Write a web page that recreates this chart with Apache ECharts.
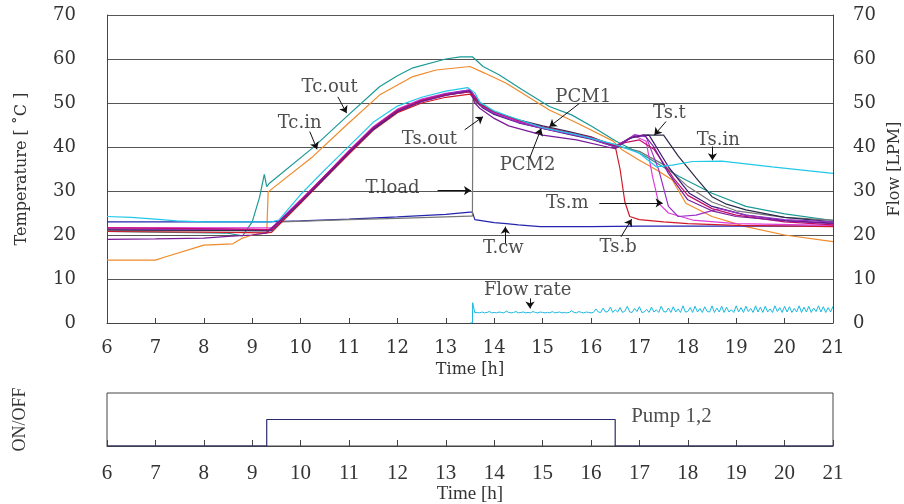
<!DOCTYPE html>
<html><head><meta charset="utf-8">
<script src="https://cdn.jsdelivr.net/npm/echarts@6/dist/echarts.min.js"></script>
<style>html,body{margin:0;padding:0;background:#fff}#c{width:904px;height:504px}</style>
</head><body><div id="c"></div>
<script>
// ---- data: [time h, value] ----
const tcOut = [[6,20.8],[8.5,20.4],[8.8,19.8],[9.0,23],[9.15,28.5],[9.25,33.8],[9.28,34.2],[9.3,31],[9.35,31.7],[10.25,39.8],[10.95,46.9],[11.63,53.7],[12.0,56.2],[12.32,58],[13.0,60],[13.3,60.5],[13.55,60.5],[13.77,58.3],[14.1,56.4],[14.58,53],[15.14,49.2],[15.6,47.3],[16.03,44.6],[16.52,41.3],[17.14,37.8],[17.82,33.3],[18.5,29.5],[19.2,26.5],[20,24.8],[21,23.3]];
const tcIn = [[6,14.3],[7,14.3],[7.2,15],[8,17.7],[8.6,18],[8.8,19.3],[9,20],[9.3,20.5],[9.33,29.8],[10.25,37.8],[10.95,45],[11.63,51.8],[12.32,56],[12.8,57.5],[13.5,58.3],[13.8,56.8],[14.25,54.5],[15.14,48.4],[15.7,45.5],[16.45,41.4],[16.65,39.3],[17,37],[17.4,34.5],[17.68,32.5],[17.96,27.2],[18.5,24.2],[19.2,21.9],[20,20],[21,18.5]];
const tsIn = [[6,24.2],[6.5,24],[7,23.6],[7.44,23.2],[8,23],[9.4,23],[9.55,23.4],[10,29.2],[10.5,34.8],[11,40.2],[11.5,45.6],[12,49.3],[12.5,51.3],[13,52.7],[13.45,53.5],[13.6,52.3],[13.7,50.2],[14,48.2],[14.3,47],[15,44.4],[15.7,42.8],[16.5,40.6],[16.7,39.8],[17,38.6],[17.35,35.5],[17.68,35.9],[18.1,36.7],[18.7,36.8],[19.74,35.5],[21,34]];
const tsOut = [[6,19],[7,19.1],[8,19.3],[8.5,19.7],[9,20],[9.3,20.5],[10,27.6],[10.5,33.2],[11,38.8],[11.5,44.2],[12,48.1],[12.5,50.3],[13,51.7],[13.5,52.8],[13.6,50],[13.7,48.8],[14,46.5],[14.3,44.8],[15,42.7],[15.7,41.6],[16.5,39.6],[16.8,42],[17.1,42.8],[17.3,40],[17.6,34],[18,28],[18.5,25.5],[19,24.2],[20,23.2],[21,22.6]];
const pcm1 = [[6,21.6],[8.5,21.4],[9.3,21.2],[9.4,21.2],[10,27.8],[10.5,33.4],[11,39],[11.5,44.4],[12,48.4],[12.5,50.6],[13,51.9],[13.5,52.5],[13.6,51.2],[13.75,49.4],[14,48],[14.5,46],[15,44.6],[15.5,43.4],[16,42.2],[16.5,40.3],[16.7,41],[17,41.6],[17.3,39.5],[17.7,33],[18,29],[18.5,26],[19,24.5],[20,23],[21,22.3]];
const pcm2 = [[6,21.3],[9.3,21],[9.4,21],[10,27.5],[10.5,33],[11,38.7],[11.5,44],[12,48],[12.5,50.4],[13,51.8],[13.5,52.6],[13.6,51],[13.75,49],[14,47.4],[14.5,45.5],[15,44.2],[15.5,43],[16,41.8],[16.5,40],[16.9,42.5],[17.2,42.7],[17.6,35.5],[18.03,29.5],[18.5,26.5],[19.2,24.5],[20,23.3],[21,22.7]];
const tsT = [[6,21.2],[9.3,21],[9.4,21],[10,27.7],[10.5,33.3],[11,38.9],[11.5,44.3],[12,48.3],[12.5,50.6],[13,52],[13.5,52.9],[13.6,51.4],[13.75,49.6],[14,48],[14.5,46.2],[15,44.8],[15.5,43.6],[16,42.3],[16.5,40.1],[16.8,42],[17.14,42.7],[17.5,42.7],[17.8,38],[18.17,33],[18.5,28.7],[18.8,27],[19.2,25.7],[20,24],[21,23]];
const tsM = [[6,21.4],[9.3,21.2],[9.4,21.2],[10,27.8],[10.5,33.4],[11,39],[11.5,44.4],[12,48.4],[12.5,50.7],[13,52.1],[13.5,53],[13.6,51.3],[13.75,49.2],[14,47.6],[14.5,45.6],[15,44.2],[15.5,43.1],[16,41.9],[16.5,40],[16.9,42.8],[17.14,42.3],[17.4,34.8],[17.6,26.5],[17.8,24.2],[18.17,24.5],[18.65,26],[19.2,24.5],[20,23.5],[21,23]];
const ts2 = [[6,21.7],[9.3,21.6],[9.4,21.6],[10,28],[10.5,33.5],[11,39.2],[11.5,44.6],[12,48.6],[12.5,50.9],[13,52.2],[13.5,53],[13.6,51.6],[13.75,49.5],[14,47.8],[14.5,45.8],[15,44.4],[15.5,43.3],[16,42],[16.5,40.3],[16.9,42.5],[17.14,41.3],[17.27,33.3],[17.4,27.2],[17.6,25],[18.1,23.4],[19,22.6],[21,22.2]];
const tsB = [[6,20.8],[8.5,20.6],[9.3,20.5],[9.4,20.6],[10,27.2],[10.5,32.8],[11,38.4],[11.5,43.8],[12,47.8],[12.5,50],[13,51.3],[13.5,52],[13.6,50.8],[13.75,49.2],[14,47.6],[14.5,45.7],[15,44.3],[15.5,43.2],[16,42],[16.5,40.2],[16.6,35],[16.7,27.5],[16.8,24.2],[17,23.5],[17.5,23],[18,22.6],[19,22.2],[21,21.9]];
const tLoad = [[6,21],[9.3,21],[9.6,23],[11,23.5],[12,23.8],[13.5,24.3],[13.55,24.3],[13.56,50.8],[13.7,49.5],[14,47.8],[14.5,46],[15,44.5],[15.5,43.3],[16,42],[16.5,40.3],[17,39],[17.5,36],[18,31],[18.5,27.5],[19,25.5],[20,24],[21,23.4]];
const tCw = [[6,23],[9.3,23],[10,23.2],[11,23.6],[12,24.1],[13,24.7],[13.5,25.2],[13.55,25.2],[13.6,23.5],[14,22.8],[14.25,22.6],[14.5,22.3],[14.95,21.9],[16,21.9],[17,22],[21,22]];
// flow rate [LPM], sampled every 0.05 h starting at 13.6 h
const flowStart = [[13.5,0],[13.55,0],[13.555,4.6]];
const flowRate = [2.3,2.4,2.3,2.5,2.3,2.4,2.6,2.3,2.4,2.3,2.5,2.4,2.3,2.7,2.4,2.3,2.4,2.6,2.3,2.4,2.5,2.3,2.4,2.3,2.6,2.4,2.3,2.5,2.4,2.3,2.4,2.3,2.6,2.3,2.4,2.5,2.3,2.4,2.3,2.4,2.8,2.4,2.3,2.6,2.4,2.3,2.5,2.4,2.3,
2.4,3.2,2.5,2.4,3.4,2.5,2.6,3.6,2.4,3.0,2.5,3.5,2.4,2.7,3.8,2.5,2.4,3.3,2.6,3.7,2.4,2.5,3.1,2.4,3.6,2.5,3.0,2.4,3.8,2.6,2.5,3.4,2.4,3.7,2.5,3.2,2.4,3.9,2.5,2.6,3.5,2.4,3.8,2.5,3.3,2.4,3.7,2.6,2.5,3.9,2.4,3.4,2.5,3.8,2.4,3.6,2.5,3.0,2.4,3.9,2.5,3.5,2.4,3.8,2.6,3.3,2.4,3.9,2.5,3.6,2.4,3.8,2.5,3.2,2.4,3.9,2.6,3.5,2.4,3.8,2.5,3.7,2.4,3.3,2.5,3.9,2.4,3.6,2.5,3.8,2.4,3.4,2.6,3.9,2.5,3.7,2.4,3.5,2.5,3.8];
const pump = [[6,0],[9.3,0],[9.3,1],[16.5,1],[16.5,0],[21,0]];
// annotation labels [text, time, value] and arrows [x0,y0,x1,y1]
const annoLabels = [['Tc.out',10.6,53.6],['Tc.in',9.98,45.4],['Ts.out',12.66,41.8],['T.load',11.9,30.6],['PCM1',15.84,51.4],['PCM2',14.69,35.9],['Ts.t',17.62,47.7],['Ts.in',18.63,41.6],['Ts.m',15.51,27.3],['Ts.b',16.56,17.3],['T.cw',14.19,17.0],['Flow rate',14.69,7.5]];
const annoArrows = [[10.77,51.4,10.95,47.7],[10.19,43.5,10.34,39.5],[13.39,43.9,13.77,46.9],[12.83,30.1,13.52,30.1],[15.76,49.9,15.14,44.6],[14.73,37.4,14.97,44.2],[17.55,45.8,17.31,42.7],[18.51,40.1,18.51,37.0],[16.17,27.3,17.48,27.3],[16.62,19.6,16.84,23.6],[14.23,18.1,14.23,21.9],[14.74,5.6,14.74,3.3]];
const pumpLabel = [['Pump 1,2',16.83,1.1]];

const flowData = flowStart.concat(flowRate.map((v,i)=>[13.6+i*0.05, v]));
const serif = 'DejaVu Serif';
const serif2 = 'Liberation Serif';
const axisCol = '#444';
function ln(name, data, color, w){
  return {name, type:'line', xAxisIndex:0, yAxisIndex:0, data, symbol:'none', showSymbol:false,
    lineStyle:{color, width:w||1.2}, itemStyle:{color}, silent:true, z:2};
}
const chart = echarts.init(document.getElementById('c'), null, {renderer:'canvas'});
chart.setOption({
  animation:false,
  backgroundColor:'#fff',
  grid:[
    {left:107, right:71, top:15, height:308, containLabel:false, outerBoundsMode:'none'},
    {left:107, right:71, top:393, height:53, show:true, borderColor:axisCol, borderWidth:1, backgroundColor:'transparent', containLabel:false, outerBoundsMode:'none'}
  ],
  xAxis:[
    {gridIndex:0, type:'value', min:6, max:21, interval:1,
     axisLine:{lineStyle:{color:axisCol}}, axisTick:{inside:true, length:5, lineStyle:{color:axisCol}},
     axisLabel:{fontFamily:serif, fontSize:18, color:'#333', margin:16},
     splitLine:{show:false},
     name:'Time [h]', nameLocation:'middle', nameGap:35, nameTextStyle:{fontFamily:serif, fontSize:16, color:'#333'}},
    {gridIndex:1, type:'value', min:6, max:21, interval:1,
     axisLine:{lineStyle:{color:axisCol}}, axisTick:{inside:true, length:6, lineStyle:{color:axisCol}},
     axisLabel:{fontFamily:serif2, fontSize:21, color:'#333', margin:17},
     splitLine:{show:false},
     name:'Time [h]', nameLocation:'middle', nameGap:39, nameTextStyle:{fontFamily:serif2, fontSize:19, color:'#333'}}
  ],
  yAxis:[
    {gridIndex:0, type:'value', position:'left', min:0, max:70, interval:10,
     axisLine:{show:true, lineStyle:{color:axisCol}}, axisTick:{show:false},
     axisLabel:{fontFamily:serif, fontSize:18, color:'#333', margin:31},
     splitLine:{show:true, lineStyle:{color:'#555', width:1}},
     name:'Temperature [ ˚C ]', nameLocation:'middle', nameRotate:90, nameGap:77,
     nameTextStyle:{fontFamily:serif, fontSize:16, color:'#333'}},
    {gridIndex:0, type:'value', position:'right', min:0, max:70, interval:10,
     axisLine:{show:true, lineStyle:{color:axisCol}}, axisTick:{show:false},
     axisLabel:{fontFamily:serif, fontSize:18, color:'#333', margin:20},
     splitLine:{show:false},
     name:'Flow [LPM]', nameLocation:'middle', nameRotate:90, nameGap:52,
     nameTextStyle:{fontFamily:serif, fontSize:16, color:'#333'}},
    {gridIndex:1, type:'value', min:0, max:2, interval:1,
     axisLine:{show:false}, axisTick:{show:false}, axisLabel:{show:false}, splitLine:{show:false},
     name:'ON/OFF', nameLocation:'middle', nameRotate:90, nameGap:78,
     nameTextStyle:{fontFamily:serif2, fontSize:18, color:'#333'}}
  ],
  series:[
    ln('Tc.in', tcIn, '#f08a2a'),
    ln('Tc.out', tcOut, '#1b9a96'),
    ln('T.cw', tCw, '#2424b0'),
    ln('T.load', tLoad, '#777777'),
    ln('Ts.b', tsB, '#d01a2a'),
    ln('Ts.2', ts2, '#e03cd8'),
    ln('PCM2', pcm2, '#3a1a78'),
    ln('Ts.t', tsT, '#2a2a4a'),
    ln('Ts.m', tsM, '#9a30c8'),
    ln('PCM1', pcm1, '#c0106a'),
    ln('Ts.out', tsOut, '#7a1a98'),
    ln('Ts.in', tsIn, '#22c8e8'),
    {name:'Flow rate', type:'line', xAxisIndex:0, yAxisIndex:1, data:flowData, symbol:'none',
     lineStyle:{color:'#1ab8e0', width:1}, silent:true, z:2},
    {name:'Pump 1,2', type:'line', xAxisIndex:1, yAxisIndex:2, data:pump, symbol:'none',
     lineStyle:{color:'#2a2a70', width:1.2}, silent:true},
    {name:'annotations', type:'scatter', xAxisIndex:0, yAxisIndex:0, symbolSize:0, silent:true, z:5,
     data:annoLabels.map(a=>[a[1],a[2],a[0]]),
     label:{show:true, position:'inside', formatter:p=>p.value[2], fontFamily:serif, fontSize:18, color:'#222'},
     markLine:{silent:true, symbol:['none','arrow'], symbolSize:7, animation:false,
       lineStyle:{color:'#111', width:1, type:'solid'}, label:{show:false},
       data:annoArrows.map(a=>[{coord:[a[0],a[1]]},{coord:[a[2],a[3]]}])}},
    {name:'pumpLabel', type:'scatter', xAxisIndex:1, yAxisIndex:2, symbolSize:0, silent:true,
     data:pumpLabel.map(a=>[a[1],a[2],a[0]]),
     label:{show:true, position:'right', distance:0, formatter:p=>p.value[2], fontFamily:serif2, fontSize:21, color:'#222'}}
  ]
});
</script></body></html>
